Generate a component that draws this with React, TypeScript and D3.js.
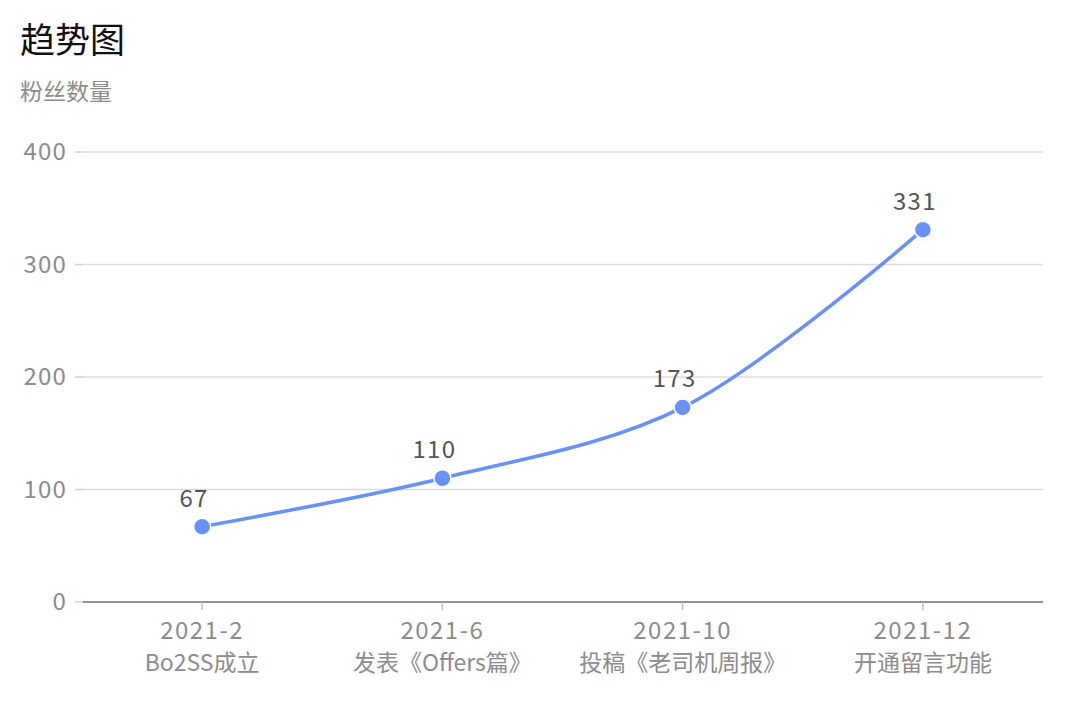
import React from 'react';
import * as d3 from 'd3';

const months = ['2021-2', '2021-6', '2021-10', '2021-12'];
const events = ['Bo2SS成立', '发表《Offers篇》', '投稿《老司机周报》', '开通留言功能'];
const fans = [67, 110, 173, 331];
const yTicks = [0, 100, 200, 300, 400];

const FONT = '"Noto Sans CJK SC", "Noto Sans", sans-serif';

const App = () => {
  const width = 1070;
  const height = 704;
  const margin = { left: 83, right: 27, top: 152, bottom: 102 };

  const x = d3
    .scaleBand<string>()
    .domain(months)
    .range([margin.left - 1, width - margin.right]);

  const y = d3
    .scaleLinear()
    .domain([0, 400])
    .range([height - margin.bottom, margin.top]);

  const points = months.map((m, i) => ({
    x: (x(m) as number) + x.bandwidth() / 2,
    y: y(fans[i]),
    v: fans[i],
  }));

  const line = d3
    .line<{ x: number; y: number }>()
    .x((d) => d.x)
    .y((d) => d.y)
    .curve(d3.curveCatmullRom.alpha(0.5));

  const x0 = margin.left;
  const x1 = width - margin.right;
  const y0 = y(0);

  return (
    <div style={{ position: 'absolute', left: 0, top: 0 }}>
      <svg width={width} height={height} style={{ display: 'block', fontFamily: FONT }}>
        <rect width={width} height={height} fill="#fff" />

        {/* title */}
        <text x={20} y={53} fontSize={35} fill="#111">
          趋势图
        </text>
        <text x={20} y={100} fontSize={23} fill="#8c8c8c">
          粉丝数量
        </text>

        {/* grid + y axis */}
        {yTicks.map((t) => (
          <g key={t}>
            {t !== 0 && (
              <line x1={x0} x2={x1} y1={y(t)} y2={y(t)} stroke="#dcdcdc" strokeWidth={1.5} />
            )}
            <line x1={x0 - 8} x2={x0} y1={y(t)} y2={y(t)} stroke="#cfcfcf" strokeWidth={1.5} />
            <text
              x={67}
              y={y(t)}
              dy="0.35em"
              textAnchor="end"
              fontSize={24}
              letterSpacing={1.2}
              fill="#8c8c8c"
            >
              {t}
            </text>
          </g>
        ))}

        {/* x axis */}
        <line x1={x0} x2={x1} y1={y0} y2={y0} stroke="#6e6e6e" strokeWidth={1.5} />
        {points.map((p, i) => (
          <g key={months[i]}>
            <line x1={p.x} x2={p.x} y1={y0} y2={y0 + 8} stroke="#bdbdbd" strokeWidth={1.5} />
            <text
              x={p.x}
              y={639}
              textAnchor="middle"
              fontSize={24}
              letterSpacing={1.5}
              fill="#8c8c8c"
            >
              {months[i]}
            </text>
            <text x={p.x} y={671} textAnchor="middle" fontSize={23} fill="#8c8c8c">
              {events[i]}
            </text>
          </g>
        ))}

        {/* series */}
        <path d={line(points) as string} fill="none" stroke="#6891f6" strokeWidth={3.5} />
        {points.map((p) => (
          <g key={p.v}>
            <circle cx={p.x} cy={p.y} r={8.5} fill="#6891f6" stroke="#fff" strokeWidth={1.5} />
            <text
              x={p.x - 8}
              y={p.y - 20}
              textAnchor="middle"
              fontSize={24}
              letterSpacing={1.2}
              fill="#555"
            >
              {p.v}
            </text>
          </g>
        ))}
      </svg>
    </div>
  );
};

export default App;
